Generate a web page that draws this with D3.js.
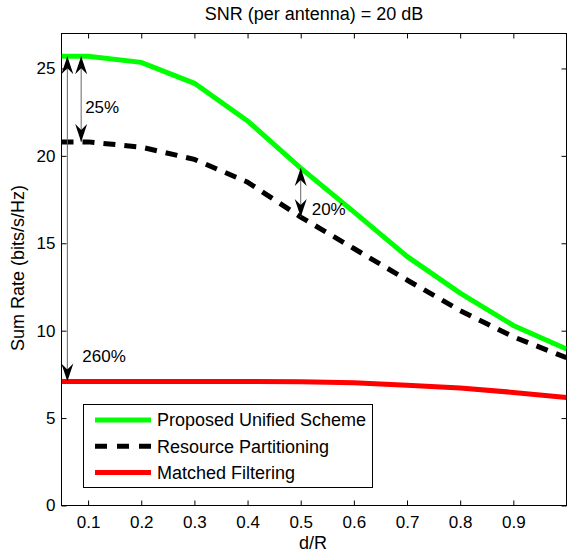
<!DOCTYPE html>
<html>
<head>
<meta charset="utf-8">
<script src="https://cdn.jsdelivr.net/npm/d3@7"></script>
<style>
  body { margin: 0; background: #fff; }
  svg { display: block; font-family: "Liberation Sans", Arial, Helvetica, sans-serif; }
</style>
</head>
<body>
<svg id="chart" width="567" height="554"></svg>
<script>
/* chart values */
var d_Over_R = [0.05, 0.1, 0.2, 0.3, 0.4, 0.5, 0.6, 0.7, 0.8, 0.9, 1.0];
var proposed_Rate = [25.7, 25.7, 25.35, 24.15, 22.0, 19.3, 16.8, 14.25, 12.15, 10.3, 8.95];
var partition_Rate = [20.8, 20.8, 20.5, 19.8, 18.5, 16.5, 14.7, 12.9, 11.15, 9.65, 8.45];
var matched_Rate = [7.1, 7.1, 7.1, 7.1, 7.1, 7.08, 7.02, 6.88, 6.72, 6.47, 6.18];

var x_Ticks = [0.1, 0.2, 0.3, 0.4, 0.5, 0.6, 0.7, 0.8, 0.9];
var y_Ticks = [0, 5, 10, 15, 20, 25];

var series_Names = ["Proposed Unified Scheme", "Resource Partitioning", "Matched Filtering"];
var series_Colours = ["#00ff00", "#000000", "#ff0000"];

/* gap annotations: x position, upper value, lower value, label */
var gap_X = [0.061, 0.087, 0.5];
var gap_Top = [25.7, 25.7, 19.3];
var gap_Bottom = [7.1, 20.8, 16.5];
var gap_Labels = ["260%", "25%", "20%"];

var svg = d3.select("#chart");
var plot_Left = 61.5, plot_Right = 566.5, plot_Top = 33.5, plot_Bottom = 505.5;

var x = d3.scaleLinear().domain([0.05, 1]).range([plot_Left, plot_Right]);
var y = d3.scaleLinear().domain([0, 27]).range([plot_Bottom, plot_Top]);

svg.append("clipPath").attr("id", "plot_Clip")
   .append("rect").attr("x", plot_Left).attr("y", plot_Top)
   .attr("width", plot_Right - plot_Left).attr("height", plot_Bottom - plot_Top);

/* axes, MATLAB style ticks pointing inward */
svg.append("g").attr("transform", "translate(0," + plot_Bottom + ")")
   .call(d3.axisBottom(x).tickValues(x_Ticks).tickSizeInner(-5).tickSizeOuter(0).tickPadding(10))
   .call(function(g){ g.select(".domain").remove(); });

svg.append("g").attr("transform", "translate(0," + plot_Top + ")")
   .call(d3.axisTop(x).tickValues(x_Ticks).tickSizeInner(-5).tickSizeOuter(0).tickFormat(""))
   .call(function(g){ g.select(".domain").remove(); });

svg.append("g").attr("transform", "translate(" + plot_Left + ",0)")
   .call(d3.axisLeft(y).tickValues(y_Ticks).tickSizeInner(-5).tickSizeOuter(0).tickPadding(6))
   .call(function(g){ g.select(".domain").remove(); });

svg.append("g").attr("transform", "translate(" + plot_Right + ",0)")
   .call(d3.axisRight(y).tickValues(y_Ticks).tickSizeInner(-5).tickSizeOuter(0).tickFormat(""))
   .call(function(g){ g.select(".domain").remove(); });

svg.selectAll(".tick text").attr("font-size", 17).attr("fill", "#000")
   .attr("font-family", "'Liberation Sans', Arial, sans-serif");
svg.selectAll(".tick line").attr("stroke", "#000");

svg.append("rect").attr("x", plot_Left).attr("y", plot_Top)
   .attr("width", plot_Right - plot_Left).attr("height", plot_Bottom - plot_Top)
   .attr("fill", "none").attr("stroke", "#000").attr("stroke-width", 1);

/* series */
var line = d3.line()
	.x(function(d){ return x(d[0]); })
	.y(function(d){ return y(d[1]); });

var plot = svg.append("g").attr("clip-path", "url(#plot_Clip)");

plot.append("path").datum(d3.zip(d_Over_R, proposed_Rate))
    .attr("d", line).attr("fill", "none")
    .attr("stroke", series_Colours[0]).attr("stroke-width", 5);

plot.append("path").datum(d3.zip(d_Over_R, partition_Rate))
    .attr("d", line).attr("fill", "none")
    .attr("stroke", series_Colours[1]).attr("stroke-width", 5)
    .attr("stroke-dasharray", "12 9");

plot.append("path").datum(d3.zip(d_Over_R, matched_Rate))
    .attr("d", line).attr("fill", "none")
    .attr("stroke", series_Colours[2]).attr("stroke-width", 5);

/* double arrows */
svg.append("defs").append("marker")
   .attr("id", "head")
   .attr("markerUnits", "userSpaceOnUse")
   .attr("viewBox", "-18 -7 18 14")
   .attr("refX", 0).attr("refY", 0)
   .attr("markerWidth", 18).attr("markerHeight", 14)
   .attr("orient", "auto-start-reverse")
   .append("path")
   .attr("d", "M0,0 L-18,-6 L-12,0 L-18,6 Z")
   .attr("fill", "#000");

var label_Offset = [[15, -25], [4, -35], [11, -8]];

for (var index = 0; index < gap_X.length; index++) {

	svg.append("line")
	   .attr("x1", x(gap_X[index])).attr("x2", x(gap_X[index]))
	   .attr("y1", y(gap_Top[index])).attr("y2", y(gap_Bottom[index]))
	   .attr("stroke", "#666").attr("stroke-width", 1)
	   .attr("marker-start", "url(#head)")
	   .attr("marker-end", "url(#head)");

	svg.append("text")
	   .attr("x", x(gap_X[index]) + label_Offset[index][0])
	   .attr("y", y(gap_Bottom[index]) + label_Offset[index][1])
	   .attr("dy", "0.35em")
	   .attr("font-size", 17)
	   .text(gap_Labels[index]);
}

/* legend */
var legend = svg.append("g");
legend.append("rect").attr("x", 83.5).attr("y", 404.5)
      .attr("width", 289).attr("height", 83)
      .attr("fill", "#fff").attr("stroke", "#000").attr("stroke-width", 1);

for (var row = 0; row < series_Names.length; row++) {

	var row_Y = 420 + row * 26.2;

	legend.append("line")
	      .attr("x1", 95).attr("x2", 151)
	      .attr("y1", row_Y).attr("y2", row_Y)
	      .attr("stroke", series_Colours[row]).attr("stroke-width", 5)
	      .attr("stroke-dasharray", row == 1 ? "12 10" : null);

	legend.append("text")
	      .attr("x", 157).attr("y", row_Y).attr("dy", "0.35em")
	      .attr("font-size", 18)
	      .text(series_Names[row]);
}

/* titles */
svg.append("text").attr("x", 314).attr("y", 14).attr("dy", "0.35em")
   .attr("text-anchor", "middle").attr("font-size", 18)
   .text("SNR (per antenna) = 20 dB");

svg.append("text").attr("x", 313).attr("y", 543).attr("dy", "0.35em")
   .attr("text-anchor", "middle").attr("font-size", 18)
   .text("d/R");

svg.append("text")
   .attr("transform", "translate(18,268) rotate(-90)")
   .attr("dy", "0.35em")
   .attr("text-anchor", "middle").attr("font-size", 18)
   .text("Sum Rate (bits/s/Hz)");
</script>
</body>
</html>
